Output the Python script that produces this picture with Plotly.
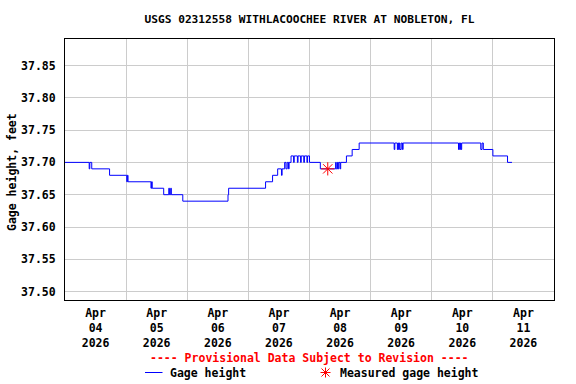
import plotly.graph_objects as go

# ---- data ----
gage_times = [
    "2026-04-04 00:00", "2026-04-04 09:30", "2026-04-04 09:45", "2026-04-04 10:30",
    "2026-04-04 17:30", "2026-04-05 00:15", "2026-04-05 00:30", "2026-04-05 00:45",
    "2026-04-05 09:45", "2026-04-05 10:00", "2026-04-05 10:15", "2026-04-05 14:45",
    "2026-04-05 16:45", "2026-04-05 17:00", "2026-04-05 17:30", "2026-04-05 17:45",
    "2026-04-05 22:15", "2026-04-06 16:00", "2026-04-06 16:15", "2026-04-07 06:45",
    "2026-04-07 09:30", "2026-04-07 11:30", "2026-04-07 13:00", "2026-04-07 13:15",
    "2026-04-07 14:15", "2026-04-07 14:45", "2026-04-07 15:15", "2026-04-07 15:45",
    "2026-04-07 16:00", "2026-04-07 16:45", "2026-04-07 17:45", "2026-04-07 18:00",
    "2026-04-07 19:15", "2026-04-07 19:30", "2026-04-07 20:30", "2026-04-07 20:45",
    "2026-04-07 21:45", "2026-04-07 22:00", "2026-04-07 23:00", "2026-04-07 23:15",
    "2026-04-08 00:00", "2026-04-08 04:15",
    "2026-04-08 10:15", "2026-04-08 10:30", "2026-04-08 11:00", "2026-04-08 11:15",
    "2026-04-08 11:30", "2026-04-08 12:00", "2026-04-08 12:15", "2026-04-08 14:30",
    "2026-04-08 16:45", "2026-04-08 19:30",
    "2026-04-09 09:15", "2026-04-09 09:30", "2026-04-09 10:30", "2026-04-09 10:45",
    "2026-04-09 11:00", "2026-04-09 11:15", "2026-04-09 11:30", "2026-04-09 12:00",
    "2026-04-09 12:30", "2026-04-09 12:45",
    "2026-04-10 10:30", "2026-04-10 10:45", "2026-04-10 11:00", "2026-04-10 11:15",
    "2026-04-10 11:30", "2026-04-10 11:45",
    "2026-04-10 19:15", "2026-04-10 19:45", "2026-04-10 20:15",
    "2026-04-11 00:00", "2026-04-11 05:45", "2026-04-11 07:30",
]
gage_values = [
    37.70, 37.69, 37.70, 37.69,
    37.68, 37.67, 37.68, 37.67,
    37.66, 37.67, 37.66, 37.65,
    37.66, 37.65, 37.66, 37.65,
    37.64, 37.65, 37.66, 37.67,
    37.68, 37.69, 37.68, 37.69,
    37.70, 37.69, 37.70, 37.69,
    37.70, 37.71, 37.70, 37.71,
    37.70, 37.71, 37.70, 37.71,
    37.70, 37.71, 37.70, 37.71,
    37.70, 37.69,
    37.70, 37.69, 37.70, 37.69,
    37.70, 37.69, 37.70, 37.71,
    37.72, 37.73,
    37.72, 37.73, 37.72, 37.73,
    37.72, 37.73, 37.72, 37.73,
    37.72, 37.73,
    37.72, 37.73, 37.72, 37.73,
    37.72, 37.73,
    37.72, 37.73, 37.72,
    37.71, 37.70, 37.70,
]
measured_times = ["2026-04-08 07:10"]
measured_values = [37.69]

y_ticks = [37.50, 37.55, 37.60, 37.65, 37.70, 37.75, 37.80, 37.85]
x_range = ["2026-04-04 00:00", "2026-04-12 00:00"]
y_range = [37.487, 37.891]

FONT = "DejaVu Sans Mono"

fig = go.Figure()
fig.add_trace(go.Scatter(
    x=gage_times, y=gage_values, mode="lines", line_shape="hv",
    line=dict(color="#0000ff", width=1), showlegend=False, hoverinfo="skip"))
fig.add_trace(go.Scatter(
    x=measured_times, y=measured_values, mode="markers",
    marker=dict(symbol="asterisk-open", size=11, color="#ff0000",
                line=dict(color="#ff0000", width=1)),
    showlegend=False, hoverinfo="skip"))

fig.update_layout(
    width=576, height=384,
    margin=dict(l=65, r=22, t=39, b=84, autoexpand=False),
    paper_bgcolor="white", plot_bgcolor="white",
    font=dict(family=FONT, size=11.5, color="black", weight="bold"),
    title=dict(text="USGS 02312558 WITHLACOOCHEE RIVER AT NOBLETON, FL",
               x=0.5, xref="paper", y=1 - 19 / 384, yref="container",
               yanchor="middle", xanchor="center",
               font=dict(family=FONT, size=11.2, weight="bold", color="black")),
    xaxis=dict(
        type="date", range=x_range, tick0="2026-04-04", dtick=86400000,
        ticklabelmode="period", tickformat="%b<br>%d<br>%Y",
        showgrid=True, gridcolor="#cccccc", gridwidth=1, automargin=False,
        ticks="", showline=True, linecolor="black", linewidth=1, mirror=True,
        zeroline=False, ticklabelstandoff=2,
        tickfont=dict(family=FONT, size=11.5, weight="bold")),
    yaxis=dict(
        range=y_range, tickvals=y_ticks, tickformat=".2f", automargin=False,
        showgrid=True, gridcolor="#cccccc", gridwidth=1,
        ticks="", showline=True, linecolor="black", linewidth=1, mirror=True,
        zeroline=False, ticklabelstandoff=6,
        tickfont=dict(family=FONT, size=11.5, weight="bold")),
)

pw = 489.0
ph = 261.0
def px(xpix):
    return (xpix - 65) / pw
def py(ypix):
    return (300 - ypix) / ph

fig.add_annotation(text="Gage height, feet", x=px(12), y=py(172), xref="paper", yref="paper",
                   xanchor="center", yanchor="middle", showarrow=False, textangle=-90,
                   font=dict(family=FONT, size=11.5, color="black", weight="bold"))
fig.add_annotation(text="---- Provisional Data Subject to Revision ----",
                   x=px(309), y=py(358), xref="paper", yref="paper",
                   xanchor="center", yanchor="middle", showarrow=False,
                   font=dict(family=FONT, size=11.5, color="#ff0000", weight="bold"))
fig.add_annotation(text="Gage height", x=px(168), y=py(373), xref="paper", yref="paper",
                   xanchor="left", yanchor="middle", showarrow=False,
                   font=dict(family=FONT, size=11.5, color="black", weight="bold"))
fig.add_annotation(text="Measured gage height", x=px(338), y=py(373), xref="paper", yref="paper",
                   xanchor="left", yanchor="middle", showarrow=False,
                   font=dict(family=FONT, size=11.5, color="black", weight="bold"))
fig.add_shape(type="line", xref="paper", yref="paper", x0=px(145), x1=px(162.5),
              y0=py(372.5), y1=py(372.5), line=dict(color="#0000ff", width=1))
# legend asterisk drawn with pixel-sized shapes
for (dx0, dy0, dx1, dy1) in [(-5, 0, 5, 0), (0, -5, 0, 5), (-4, -4, 4, 4), (-4, 4, 4, -4)]:
    fig.add_shape(type="line", xref="paper", yref="paper",
                  xsizemode="pixel", ysizemode="pixel",
                  xanchor=px(325.5), yanchor=py(372.5),
                  x0=dx0, x1=dx1, y0=dy0, y1=dy1,
                  line=dict(color="#ff0000", width=1))

fig.write_html("out.html", config={"displayModeBar": False},
               post_script="document.body.style.margin='0';document.body.style.padding='0';")
